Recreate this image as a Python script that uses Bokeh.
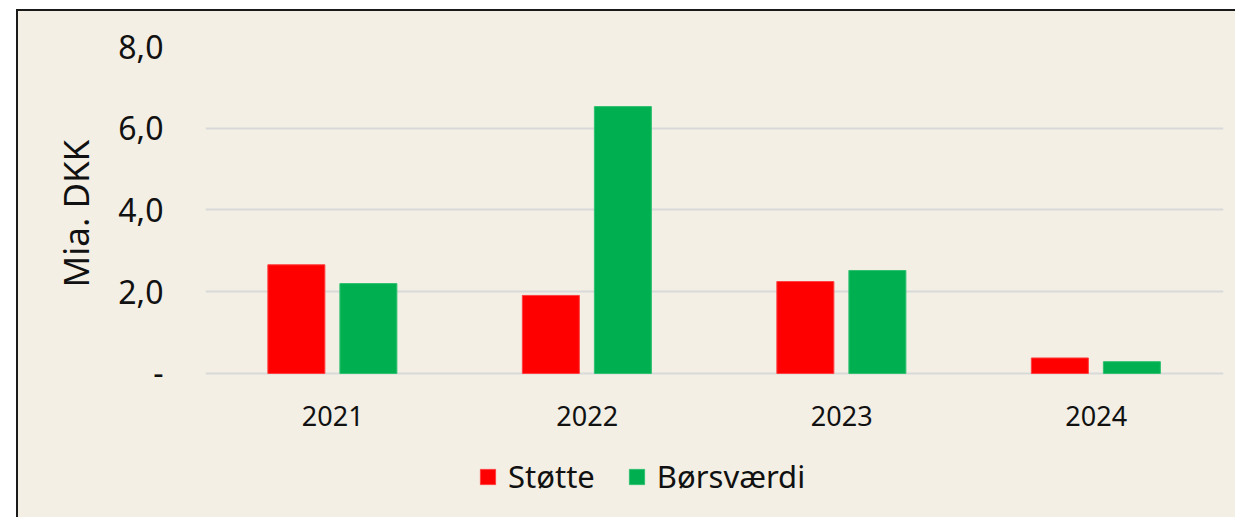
from bokeh.plotting import figure
from bokeh.models import ColumnDataSource, FactorRange, Legend, LegendItem, Range1d, Title
from bokeh.core.properties import value
from bokeh.transform import dodge
from bokeh.embed import file_html
from bokeh.resources import INLINE

years = ["2021", "2022", "2023", "2024"]
stoette = [2.66, 1.91, 2.25, 0.38]
boersvaerdi = [2.20, 6.53, 2.52, 0.29]
y_ticks = [0, 2, 4, 6, 8]
y_tick_labels = ["-", "2,0", "4,0", "6,0", "8,0"]
y_label = "Mia. DKK"

FONT = "Noto Sans"
INNER = "#F3EFE5"
OUTER = "#F8F5EF"
TXT = "#111111"

src = ColumnDataSource(dict(year=years, stoette=stoette, boers=boersvaerdi,
                            label_y=[-1.05] * len(years)))

p = figure(
    x_range=FactorRange(*years, range_padding=0),
    y_range=Range1d(-3.572, 8),
    width=1219, height=508,
    output_backend="svg", toolbar_location=None,
    background_fill_color=INNER, background_fill_alpha=0,
    border_fill_color=INNER, border_fill_alpha=0,
    min_border_left=187, min_border_right=14, min_border_top=35, min_border_bottom=0,
    margin=(9, 0, 0, 16),
)
p.styles = {"border-left": "2px solid #1a1a1a", "border-top": "2px solid #1a1a1a",
            "background-color": INNER}
p.outline_line_color = None

r1 = p.vbar(x=dodge("year", -0.143, range=p.x_range), top="stoette", width=0.224,
            source=src, fill_color="#FF0000", line_color="#FF4040", line_width=1)
r2 = p.vbar(x=dodge("year", 0.14, range=p.x_range), top="boers", width=0.224,
            source=src, fill_color="#00B050", line_color="#30C070", line_width=1)

# category labels (x axis)
p.text(x="year", y="label_y", text="year", source=src, text_font=value(FONT),
       text_font_size="27px", text_align="center", text_baseline="middle",
       text_color=TXT)
p.xaxis.visible = False

p.xgrid.grid_line_color = None
p.ygrid.grid_line_color = "#D9D9D9"
p.ygrid.grid_line_width = 2

ya = p.yaxis[0]
ya.ticker = y_ticks
ya.major_label_overrides = {t: l for t, l in zip(y_ticks, y_tick_labels)}
ya.axis_line_color = None
ya.major_tick_line_color = None
ya.minor_tick_line_color = None
ya.major_label_text_font = FONT
ya.major_label_text_color = TXT
ya.major_label_text_font_size = "32px"
ya.major_label_standoff = 36

p.add_layout(Title(text=y_label, align="left", offset=232, standoff=34,
                   text_font=FONT, text_font_size="35px", text_font_style="normal",
                   text_color=TXT), "left")

legend = Legend(
    items=[LegendItem(label="Støtte", renderers=[r1]),
           LegendItem(label="Børsværdi", renderers=[r2])],
    orientation="horizontal", location=(273, 22),
    background_fill_alpha=0, border_line_color=None,
    label_text_font=FONT, label_text_font_size="31px", label_text_color=TXT,
    glyph_width=19, glyph_height=19, spacing=32, label_standoff=11, padding=4,
)
p.add_layout(legend, "center")

html = file_html(p, INLINE)
html = html.replace("<body>", '<body style="background:%s">' % OUTER, 1)
open("out.html", "w").write(html)
